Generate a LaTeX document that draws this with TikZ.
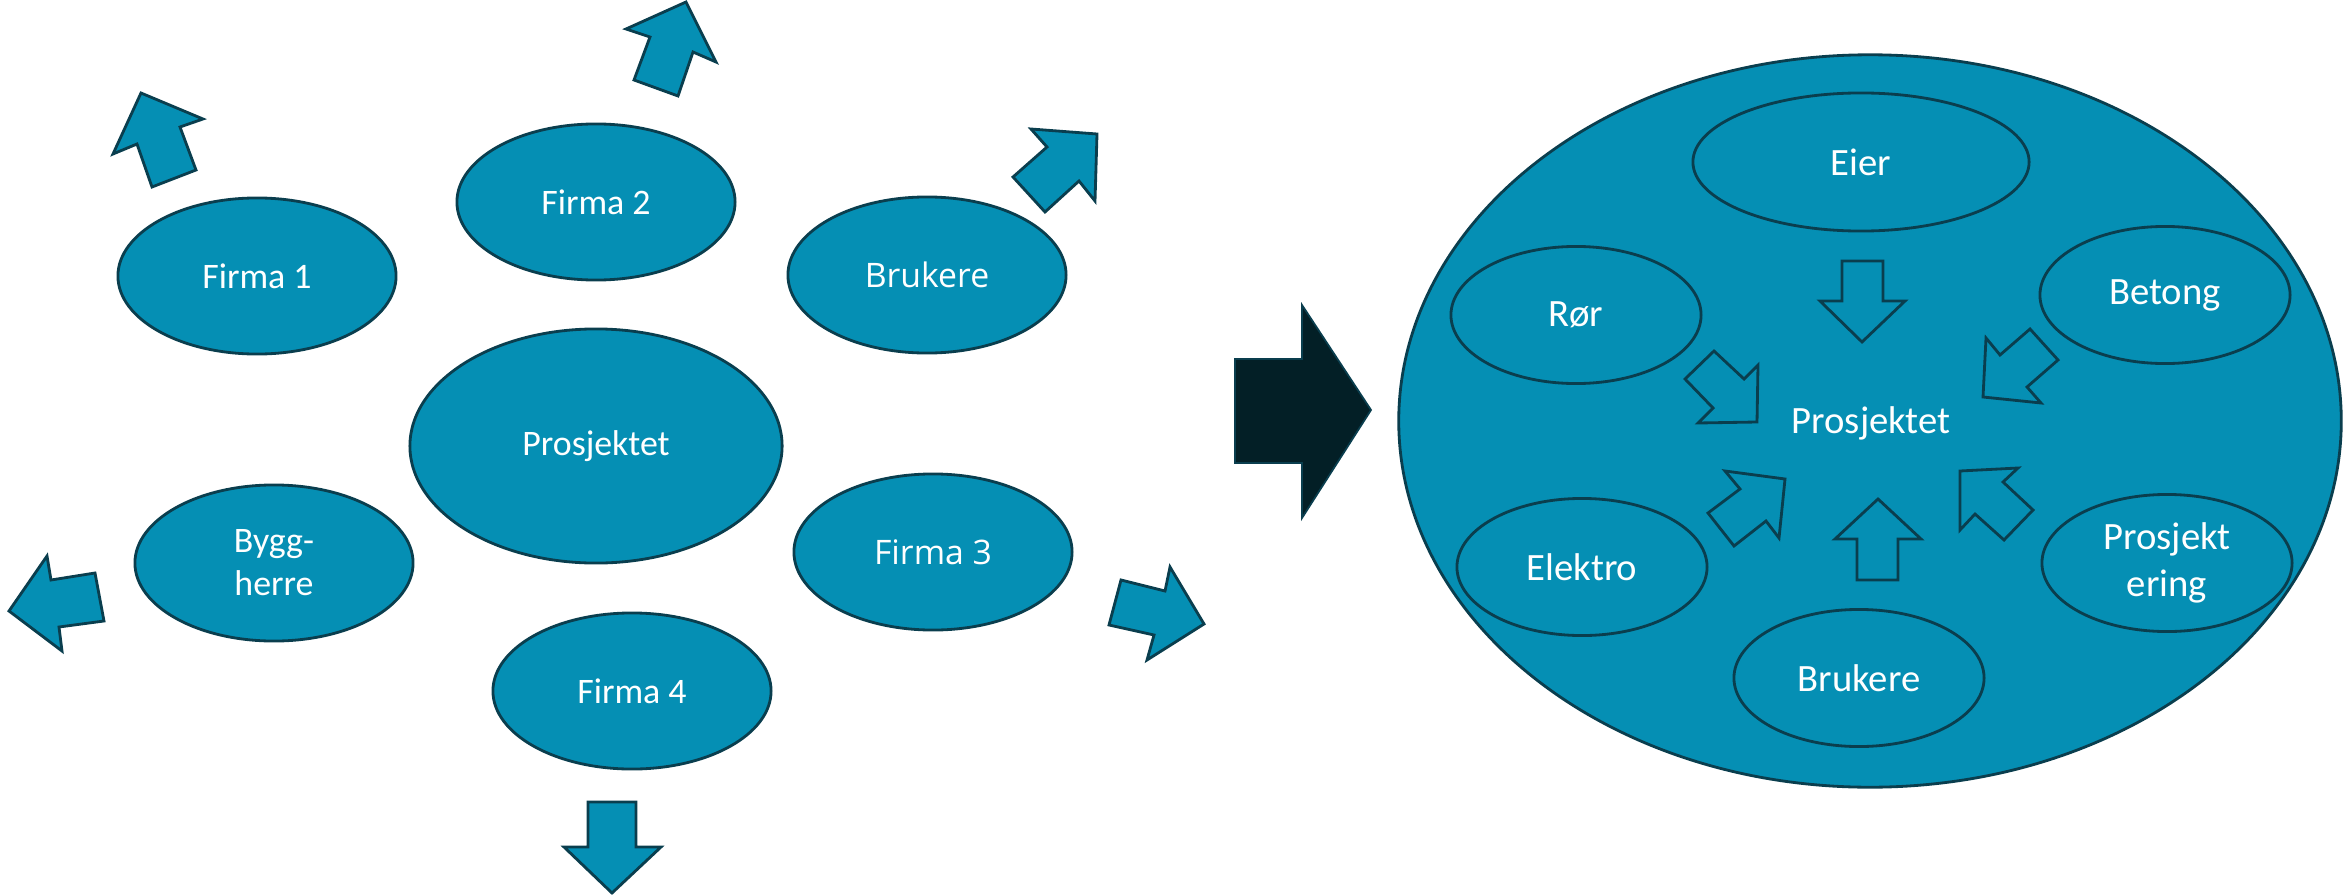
\documentclass[tikz,border=0pt]{standalone}
\usepackage{fontspec}
\setmainfont{Carlito}
\newfontfamily\segoe{Open Sans}
\usepackage{tikz}
\usetikzlibrary{shapes.geometric}
\pgfdeclarelayer{bglayer}
\pgfdeclarelayer{nodelayer}
\pgfdeclarelayer{edgelayer}
\pgfsetlayers{bglayer,nodelayer,edgelayer,main}
\definecolor{tealblue}{RGB}{5,143,180}
\definecolor{edgeblue}{RGB}{10,62,78}
\definecolor{darkarrow}{RGB}{3,31,38}
\tikzstyle{blob}=[ellipse, draw=edgeblue, fill=tealblue, line width=0.8pt, inner sep=0pt, text=white, align=center, font=\fontsize{10.2}{12.2}\selectfont]
\tikzstyle{small}=[blob, minimum width=2.78cm, minimum height=1.56cm]
\tikzstyle{inner}=[blob, minimum width=2.5cm, minimum height=1.37cm, font=\fontsize{11}{13.2}\selectfont]
\tikzstyle{outarrow}=[draw=edgeblue, fill=tealblue, line width=0.8pt]
\tikzstyle{inarrow}=[draw=edgeblue, line width=0.8pt]

\begin{document}
\begin{tikzpicture}[x=0.01cm, y=-0.01cm]
	\useasboundingbox (0,0) rectangle (2343,894);
	\begin{pgfonlayer}{bglayer}
		\node [blob, minimum width=9.42cm, minimum height=7.32cm] (10) at (1870,421) {};
	\end{pgfonlayer}
	\begin{pgfonlayer}{nodelayer}
		\node [small] (0) at (257,276) {Firma 1};
		\node [small] (1) at (596,202) {Firma 2};
		\node [small, font=\segoe\fontsize{9.6}{11.5}\selectfont] (2) at (927,275) {Brukere};
		\node [blob, minimum width=3.72cm, minimum height=2.34cm] (3) at (596,446) {Prosjektet};
		\node [small] (4) at (274,563) {Bygg-\\herre};
		\node [small, font=\segoe\fontsize{9.6}{11.5}\selectfont] (5) at (933,552) {Firma 3};
		\node [small] (6) at (632,691) {Firma 4};
		\node [inner, minimum width=3.36cm, minimum height=1.38cm] (11) at (1861,162) {Eier};
		\node [inner] (12) at (1576,315) {Rør};
		\node [inner] (13) at (2165,295) {Betong};
		\node [inner] (14) at (1582,567) {Elektro};
		\node [inner] (15) at (2167,563) {Prosjekt\\ering};
		\node [inner] (16) at (1859,678) {Brukere};
		\node [text=white, font=\fontsize{11}{13.2}\selectfont] (17) at (1871,423) {Prosjektet};
	\end{pgfonlayer}
	\begin{pgfonlayer}{edgelayer}
		% outward arrows
		\draw [outarrow] (141,93) -- (203,119) -- (180,127) -- (196,170) -- (152,187) -- (137,144) -- (113,154) -- cycle;
		\draw [outarrow] (686,2) -- (716,62) -- (693,52) -- (678,96) -- (634,80) -- (650,37) -- (626,29) -- cycle;
		\draw [outarrow] (1097,134) -- (1095,201) -- (1079,181) -- (1045,212) -- (1013,177) -- (1047,147) -- (1031,129) -- cycle;
		\draw [outarrow] (1204,624) -- (1147,660) -- (1154,635) -- (1109,625) -- (1121,580) -- (1165,591) -- (1170,567) -- cycle;
		\draw [outarrow] (612,893) -- (564,847) -- (588,847) -- (588,802) -- (636,802) -- (636,847) -- (661,847) -- cycle;
		\draw [outarrow] (9,611) -- (47,556) -- (51,580) -- (95,573) -- (104,621) -- (59,627) -- (62,651) -- cycle;
		\draw [draw=edgeblue, fill=darkarrow, line width=0.5pt] (1235,359) -- (1302,359) -- (1302,305) -- (1371,410) -- (1302,518) -- (1302,463) -- (1235,463) -- cycle;
		% inward arrows
		\draw [inarrow] (1842,261) -- (1883,261) -- (1883,301) -- (1905,301) -- (1862,342) -- (1820,301) -- (1842,301) -- cycle;
		\draw [inarrow] (1757,422) -- (1698,423) -- (1713,408) -- (1685,379) -- (1714,351) -- (1744,379) -- (1758,365) -- cycle;
		\draw [inarrow] (1983,397) -- (1986,338) -- (2000,355) -- (2030,329) -- (2058,360) -- (2027,387) -- (2041,403) -- cycle;
		\draw [inarrow] (1785,479) -- (1779,538) -- (1766,521) -- (1734,546) -- (1708,513) -- (1740,489) -- (1725,471) -- cycle;
		\draw [inarrow] (1878,499) -- (1921,539) -- (1898,539) -- (1898,580) -- (1857,580) -- (1857,539) -- (1835,539) -- cycle;
		\draw [inarrow] (1960,471) -- (2018,468) -- (2003,482) -- (2033,510) -- (2004,540) -- (1975,514) -- (1960,530) -- cycle;
	\end{pgfonlayer}
\end{tikzpicture}
\end{document}
